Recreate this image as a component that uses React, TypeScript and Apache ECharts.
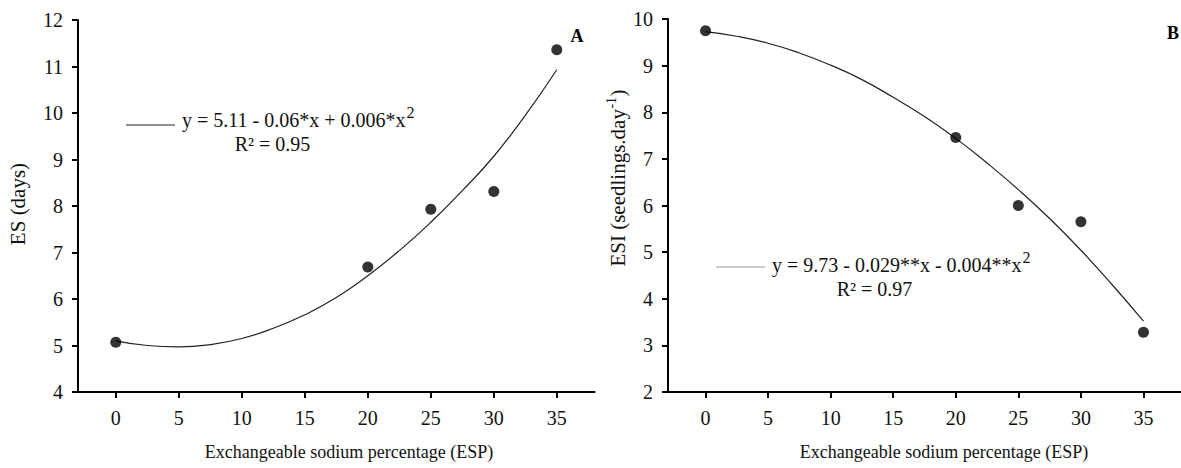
import React, { useEffect, useRef } from "react";
import * as echarts from "echarts";

// ---- data ----
const xTicks = [0, 5, 10, 15, 20, 25, 30, 35];
const espLevels = [0, 20, 25, 30, 35];
const esObserved = [5.07, 6.69, 7.93, 8.31, 11.36];
const esiObserved = [9.75, 7.46, 6.0, 5.65, 3.28];
const curveX = [0, 2.5, 5, 7.5, 10, 12.5, 15, 17.5, 20, 22.5, 25, 27.5, 30, 32.5, 35];
const esFitted = [5.1, 5.0, 4.97, 5.02, 5.15, 5.37, 5.66, 6.03, 6.5, 7.04, 7.65, 8.33, 9.07, 9.95, 10.93];
const esiFitted = [9.73, 9.63, 9.48, 9.27, 9.01, 8.7, 8.32, 7.91, 7.44, 6.91, 6.34, 5.72, 5.04, 4.3, 3.52];

const xTitle = "Exchangeable sodium percentage (ESP)";
const yTitleA = "ES (days)";
const yTitleB = ["ESI (seedlings.day", "-1", ")"];
const eqA = "y = 5.11 - 0.06*x + 0.006*x";
const r2A = "R² = 0.95";
const eqB = "y = 9.73 - 0.029**x - 0.004**x";
const r2B = "R² = 0.97";
const sup2 = "2";

const FONT = "Liberation Serif, Times New Roman, serif";
const TICK_FS = 20;
const EQ_FS = 20;
const XT_FS = 18;
const YT_FS = 21;

function measure(text: string, font: string): number {
  const ctx = document.createElement("canvas").getContext("2d");
  if (!ctx) return text.length * 9;
  ctx.font = font;
  return ctx.measureText(text).width;
}

function xAxisCfg(gridIndex: number) {
  return {
    type: "value",
    gridIndex,
    min: -3,
    max: 38,
    axisLine: { show: true, onZero: false, lineStyle: { color: "#000", width: 2 } },
    axisTick: { show: true, customValues: xTicks, length: 6, lineStyle: { color: "#000", width: 2 } },
    axisLabel: { customValues: xTicks, margin: 16, color: "#111", fontSize: TICK_FS, fontFamily: FONT },
    splitLine: { show: false },
  };
}

function yAxisCfg(gridIndex: number, min: number, max: number) {
  return {
    type: "value",
    gridIndex,
    min,
    max,
    interval: 1,
    axisLine: { show: true, onZero: false, lineStyle: { color: "#000", width: 2 } },
    axisTick: { show: true, length: 6, lineStyle: { color: "#000", width: 2 } },
    axisLabel: { margin: 15, color: "#111", fontSize: TICK_FS, fontFamily: FONT },
    splitLine: { show: false },
  };
}

function txt(x: number, y: number, text: string, size: number, align = "left", extra: any = {}) {
  return {
    type: "text",
    x,
    y,
    style: { text, font: `${size}px ${FONT}`, fill: "#111", align, verticalAlign: "middle", ...extra },
  };
}

function equation(x: number, y: number, main: string) {
  const w = measure(main, `${EQ_FS}px ${FONT}`);
  return [txt(x, y, main, EQ_FS), txt(x + w + 1, y - 8, sup2, 16)];
}

export default function App() {
  const ref = useRef<HTMLDivElement>(null);
  useEffect(() => {
    if (!ref.current) return;
    const chart = echarts.init(ref.current, undefined, { renderer: "svg" });
    const pair = (xs: number[], ys: number[]) => xs.map((x, i) => [x, ys[i]]);

    const fB = `${YT_FS}px ${FONT}`;
    const fBs = `14px ${FONT}`;
    const w1 = measure(yTitleB[0], fB);
    const w2 = measure(yTitleB[1], fBs);
    const w3 = measure(yTitleB[2], fB);
    const W = w1 + w2 + w3 + 1;

    chart.setOption({
      animation: false,
      backgroundColor: "#fff",
      grid: [
        { left: 78, top: 20, width: 516.6, height: 372 },
        { left: 668, top: 19, width: 518, height: 373 },
      ],
      xAxis: [xAxisCfg(0), xAxisCfg(1)],
      yAxis: [yAxisCfg(0, 4, 12), yAxisCfg(1, 2, 10)],
      series: [
        {
          type: "line",
          xAxisIndex: 0,
          yAxisIndex: 0,
          data: pair(curveX, esFitted),
          smooth: true,
          showSymbol: false,
          lineStyle: { color: "#222", width: 1.2 },
          z: 2,
        },
        {
          type: "scatter",
          xAxisIndex: 0,
          yAxisIndex: 0,
          data: pair(espLevels, esObserved),
          symbolSize: 11,
          itemStyle: { color: "#000" },
          z: 3,
        },
        {
          type: "line",
          xAxisIndex: 1,
          yAxisIndex: 1,
          data: pair(curveX, esiFitted),
          smooth: true,
          showSymbol: false,
          lineStyle: { color: "#222", width: 1.2 },
          z: 2,
        },
        {
          type: "scatter",
          xAxisIndex: 1,
          yAxisIndex: 1,
          data: pair(espLevels, esiObserved),
          symbolSize: 11,
          itemStyle: { color: "#000" },
          z: 3,
        },
      ],
      graphic: [
        // y-axis titles
        {
          type: "text",
          x: 18,
          y: 204,
          rotation: Math.PI / 2,
          style: { text: yTitleA, font: `${YT_FS}px ${FONT}`, fill: "#111", align: "center", verticalAlign: "middle" },
        },
        {
          type: "group",
          x: 618,
          y: 178,
          rotation: Math.PI / 2,
          children: [
            txt(-W / 2, 0, yTitleB[0], YT_FS),
            txt(-W / 2 + w1 + 0.5, -7, yTitleB[1], 14),
            txt(-W / 2 + w1 + w2 + 1, 0, yTitleB[2], YT_FS),
          ],
        },
        // x-axis titles
        txt(349, 452, xTitle, XT_FS, "center"),
        txt(944, 452, xTitle, XT_FS, "center"),
        // panel letters
        {
          type: "text",
          x: 577,
          y: 36,
          style: { text: "A", font: `bold 18px ${FONT}`, fill: "#000", align: "center", verticalAlign: "middle" },
        },
        {
          type: "text",
          x: 1173,
          y: 33,
          style: { text: "B", font: `bold 18px ${FONT}`, fill: "#000", align: "center", verticalAlign: "middle" },
        },
        // equation A
        {
          type: "line",
          shape: { x1: 126, y1: 125, x2: 175, y2: 125 },
          style: { stroke: "#222", lineWidth: 1 },
        },
        ...equation(182, 120, eqA),
        txt(272.5, 144, r2A, EQ_FS, "center"),
        // equation B
        {
          type: "line",
          shape: { x1: 716, y1: 267, x2: 765, y2: 267 },
          style: { stroke: "#999", lineWidth: 1 },
        },
        ...equation(772, 265, eqB),
        txt(874.5, 288.5, r2B, EQ_FS, "center"),
      ],
    });
    return () => chart.dispose();
  }, []);
  return (
    <div
      ref={ref}
      style={{ position: "fixed", left: 0, top: 0, width: 1181, height: 468, background: "#fff" }}
    />
  );
}
